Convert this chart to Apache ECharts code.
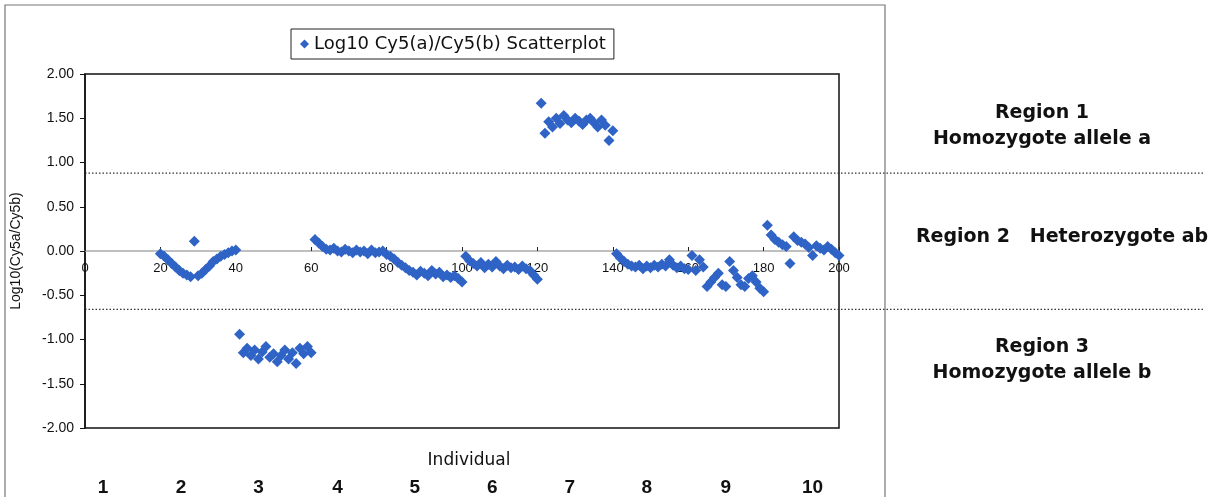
<!DOCTYPE html>
<html>
<head>
<meta charset="utf-8">
<script src="https://cdn.jsdelivr.net/npm/echarts@6/dist/echarts.min.js"></script>
<style>html,body{margin:0;padding:0;background:#fff}#c{width:1224px;height:497px}</style>
</head>
<body>
<div id="c"></div>
<script>
// Log10(Cy5a/Cy5b) per sample, grouped by individual (sample index starts given)
const individual2 = [-0.03,-0.06,-0.10,-0.14,-0.18,-0.22,-0.25,-0.27,-0.29,0.11,-0.28,-0.25,-0.21,-0.17,-0.12,-0.09,-0.06,-0.04,-0.02,0.00,0.01];
const individual3 = [-0.94,-1.15,-1.10,-1.18,-1.12,-1.22,-1.14,-1.08,-1.20,-1.16,-1.25,-1.18,-1.12,-1.22,-1.15,-1.27,-1.10,-1.16,-1.08,-1.15];
const individual4 = [0.13,0.09,0.05,0.02,0.01,0.03,0.00,-0.01,0.02,0.00,-0.02,0.01,-0.01,0.00,-0.03,0.01,-0.02,-0.01,0.00,-0.04];
const individual5 = [-0.06,-0.09,-0.13,-0.16,-0.19,-0.22,-0.24,-0.27,-0.23,-0.25,-0.28,-0.22,-0.26,-0.24,-0.29,-0.27,-0.30,-0.28,-0.31,-0.35];
const individual6 = [-0.06,-0.11,-0.14,-0.17,-0.13,-0.19,-0.15,-0.18,-0.12,-0.17,-0.20,-0.16,-0.19,-0.18,-0.21,-0.17,-0.20,-0.22,-0.27,-0.32];
const individual7 = [1.67,1.33,1.46,1.40,1.50,1.44,1.53,1.48,1.45,1.50,1.47,1.43,1.48,1.50,1.45,1.40,1.48,1.42,1.25,1.36];
const individual8 = [-0.03,-0.08,-0.12,-0.15,-0.17,-0.18,-0.16,-0.20,-0.17,-0.19,-0.16,-0.18,-0.15,-0.17,-0.10,-0.16,-0.19,-0.17,-0.20,-0.21];
const individual9 = [-0.05,-0.22,-0.10,-0.18,-0.40,-0.35,-0.30,-0.25,-0.38,-0.40,-0.12,-0.22,-0.30,-0.38,-0.40,-0.31,-0.28,-0.35,-0.42,-0.46];
const individual10 = [0.29,0.18,0.13,0.10,0.07,0.05,-0.14,0.16,0.12,0.10,0.08,0.04,-0.05,0.06,0.03,0.01,0.05,0.02,-0.02,-0.05];
const groupStarts = [20,41,61,81,101,121,141,161,181];
const xTicks = [0,20,40,60,80,100,120,140,160,180,200];
const yTicks = [-2,-1.5,-1,-0.5,0,0.5,1,1.5,2];
const thresholds = [0.88,-0.66];
const individualLabels = ['1','2','3','4','5','6','7','8','9','10'];
const individualLabelX = [4.8,25.5,46,67,87.5,108,128.6,149,170,193];
const seriesName = 'Log10 Cy5(a)/Cy5(b) Scatterplot';

const groups = [individual2,individual3,individual4,individual5,individual6,individual7,individual8,individual9,individual10];
const data = [];
groups.forEach((g, gi) => g.forEach((v, i) => data.push([groupStarts[gi] + i, v])));

const chart = echarts.init(document.getElementById('c'));
const FONT = 'Liberation Sans, Arial, sans-serif';
chart.setOption({
  animation: false,
  backgroundColor: '#fff',
  grid: {left: 85, top: 74, right: 385, bottom: 69, show: true, borderColor: '#111', borderWidth: 1.5, backgroundColor: 'transparent'},
  legend: {
    data: [{name: seriesName, icon: 'diamond'}],
    left: 291, top: 29, itemWidth: 9, itemHeight: 9, itemGap: 7,
    padding: [6, 8, 6, 9],
    borderColor: '#222', borderWidth: 1,
    textStyle: {fontFamily: 'DejaVu Sans', fontSize: 18, color: '#111'}
  },
  xAxis: {
    type: 'value', min: xTicks[0], max: xTicks[xTicks.length-1], interval: 20,
    axisLine: {onZero: true, lineStyle: {color: '#aaa', width: 1.5}},
    axisTick: {inside: true, length: 4, lineStyle: {color: '#222'}},
    axisLabel: {show: false},
    splitLine: {show: false}
  },
  yAxis: {
    type: 'value', min: yTicks[0], max: yTicks[yTicks.length-1], interval: 0.5,
    name: 'Log10(Cy5a/Cy5b)', nameLocation: 'middle', nameGap: 62, nameRotate: 90,
    nameTextStyle: {fontFamily: FONT, fontSize: 14, color: '#111'},
    axisLine: {onZero: false, lineStyle: {color: '#111', width: 1.5}},
    axisTick: {length: 5, lineStyle: {color: '#111'}},
    axisLabel: {fontFamily: FONT, fontSize: 14, color: '#111', margin: 11, formatter: v => v.toFixed(2)},
    splitLine: {show: false}
  },
  series: [{
    name: seriesName, type: 'scatter', symbol: 'diamond', symbolSize: 11, z: 5,
    itemStyle: {color: '#2f63c6', opacity: 1},
    data: data
  }]
});

function px(x, y) { return chart.convertToPixel({gridIndex: 0}, [x, y]); }
const graphics = [
  {type: 'rect', shape: {x: 5, y: 5, width: 880, height: 510}, style: {fill: 'none', stroke: '#777', lineWidth: 1.2}, silent: true}
];
thresholds.forEach(t => {
  const p = px(0, t);
  graphics.push({type: 'line', shape: {x1: p[0], y1: p[1], x2: 1203, y2: p[1]}, style: {stroke: '#333', lineWidth: 1.3, lineDash: [1.5, 2]}, silent: true});
});
xTicks.forEach(t => {
  const p = px(t, 0);
  graphics.push({type: 'text', x: p[0], y: p[1] + 17, z: 1, style: {text: String(t), font: '13px Liberation Sans, Arial', fill: '#111', align: 'center', verticalAlign: 'middle'}});
});
const bold = '700 19px DejaVu Sans, Verdana, sans-serif';
const regionTexts = [
  ['Region 1', 1042, 113], ['Homozygote allele a', 1042, 139],
  ['Region 2   Heterozygote ab', 1062, 237],
  ['Region 3', 1042, 347], ['Homozygote allele b', 1042, 373]
];
regionTexts.forEach(r => graphics.push({type: 'text', x: r[1], y: r[2], style: {text: r[0], font: bold, fill: '#111', align: 'center', verticalAlign: 'middle'}}));
graphics.push({type: 'text', x: 469, y: 461, style: {text: 'Individual', font: '17px DejaVu Sans', fill: '#111', align: 'center', verticalAlign: 'middle'}});
individualLabels.forEach((l, i) => {
  const p = px(individualLabelX[i], 0);
  graphics.push({type: 'text', x: p[0], y: 488, style: {text: l, font: '700 19px Liberation Sans, Arial', fill: '#111', align: 'center', verticalAlign: 'middle'}});
});
chart.setOption({graphic: graphics});
</script>
</body>
</html>
